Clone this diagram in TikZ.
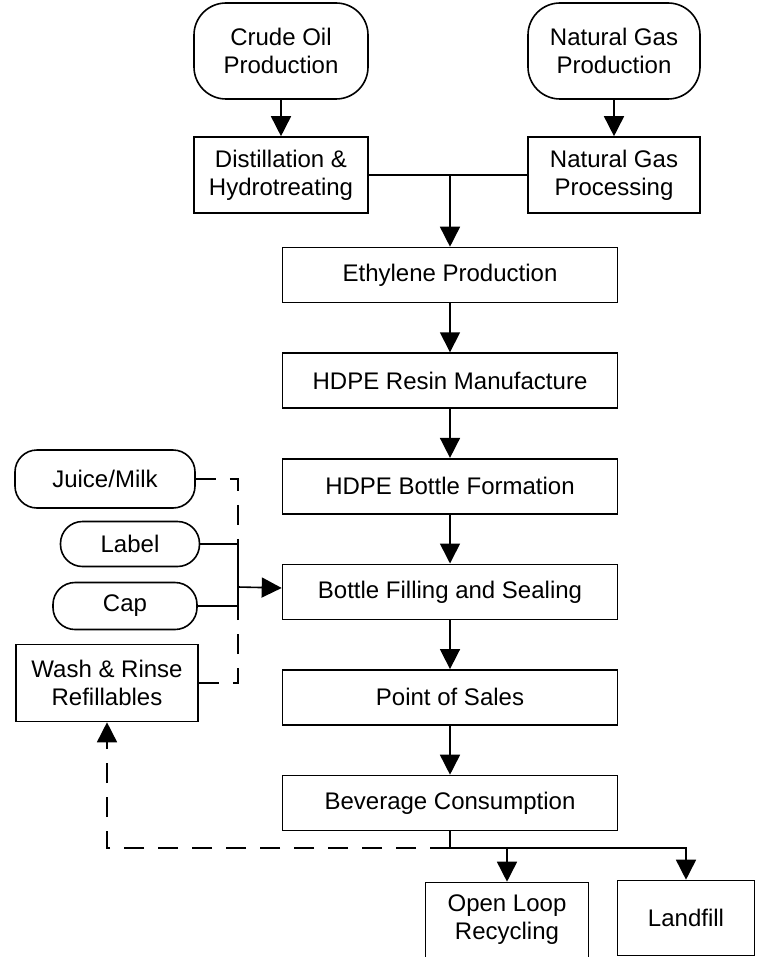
\documentclass[tikz,border=0pt]{standalone}
\usepackage{fontspec}
\setmainfont{Liberation Sans}
\usetikzlibrary{arrows.meta,positioning}
\tikzset{
  proc/.style={draw=black,line width=0.8pt,inner sep=0pt,align=center,
               font=\fontsize{12}{14}\selectfont},
  term/.style={proc,rounded corners=11pt},
  chain/.style={proc,minimum width=167.5pt,minimum height=27.5pt},
  flow/.style={-{Triangle[length=10pt,width=10pt]},line width=0.8pt},
  link/.style={line width=0.8pt},
  feed/.style={line width=0.8pt,dash pattern=on 10pt off 7pt},
}

\begin{document}
\begin{tikzpicture}[x=0.5pt,y=-0.5pt,node distance=24.5pt]
  \useasboundingbox (0,0) rectangle (756,957);
  % raw material sources
  \node[term,rounded corners=16pt,minimum width=87pt,minimum height=48pt] (crude) at (281,51) {Crude Oil\\Production};
  \node[term,rounded corners=16pt,minimum width=86pt,minimum height=48pt] (gas) at (614,51) {Natural Gas\\Production};
  \node[proc,minimum width=87pt,minimum height=38pt] (dist) at (281,175) {Distillation \&\\Hydrotreating};
  \node[proc,minimum width=86pt,minimum height=38pt] (gasproc) at (614,175) {Natural Gas\\Processing};
  \coordinate (mix) at (450,175);
  % main chain
  \node[chain] (eth) at (450,275) {Ethylene Production};
  \node[chain,below=of eth] (resin) {HDPE Resin Manufacture};
  \node[chain,below=of resin] (form) {HDPE Bottle Formation};
  \node[chain,below=of form] (fill) {Bottle Filling and Sealing};
  \node[chain,below=of fill] (sale) {Point of Sales};
  \node[chain,below=of sale] (bev) {Beverage Consumption};
  % inputs to filling
  \node[term,minimum width=90pt,minimum height=29pt] (juice) at (105,479) {Juice/Milk};
  \node[term,minimum width=69.5pt,minimum height=22.5pt] (label) at (130,544) {Label};
  \node[term,minimum width=72pt,minimum height=23.5pt] (cap) at (125,606) {Cap};
  \node[proc,minimum width=91pt,minimum height=38.5pt] (wash) at (107,683) {Wash \& Rinse\\Refillables};
  \coordinate (brk) at (238,587);
  % end of life
  \coordinate (split) at (450,848);
  \node[proc,minimum width=81.5pt,minimum height=37.5pt] (open) at (507,920) {Open Loop\\Recycling};
  \node[proc,minimum width=68.5pt,minimum height=37.5pt] (land) at (686,918) {Landfill};

  \draw[flow] (crude) -- (dist);
  \draw[flow] (gas) -- (gasproc);
  \draw[link] (dist) -- (gasproc);
  \draw[flow] (mix) -- (eth);
  \draw[flow] (eth) -- (resin);
  \draw[flow] (resin) -- (form);
  \draw[flow] (form) -- (fill);
  \draw[flow] (fill) -- (sale);
  \draw[flow] (sale) -- (bev);
  \draw[link] (label.east) -| (brk) |- (cap.east);
  \draw[feed] (juice.east) -| (label.east -| brk);
  \draw[feed] (wash.east) -| (cap.east -| brk);
  \draw[flow] (brk) -- (fill);
  \draw[link] (bev) -- (split);
  \draw[flow] (split) -| (open);
  \draw[flow] (split) -| (land);
  \draw[feed,-{Triangle[length=10pt,width=10pt]}] (split) -| (wash);
\end{tikzpicture}
\end{document}
